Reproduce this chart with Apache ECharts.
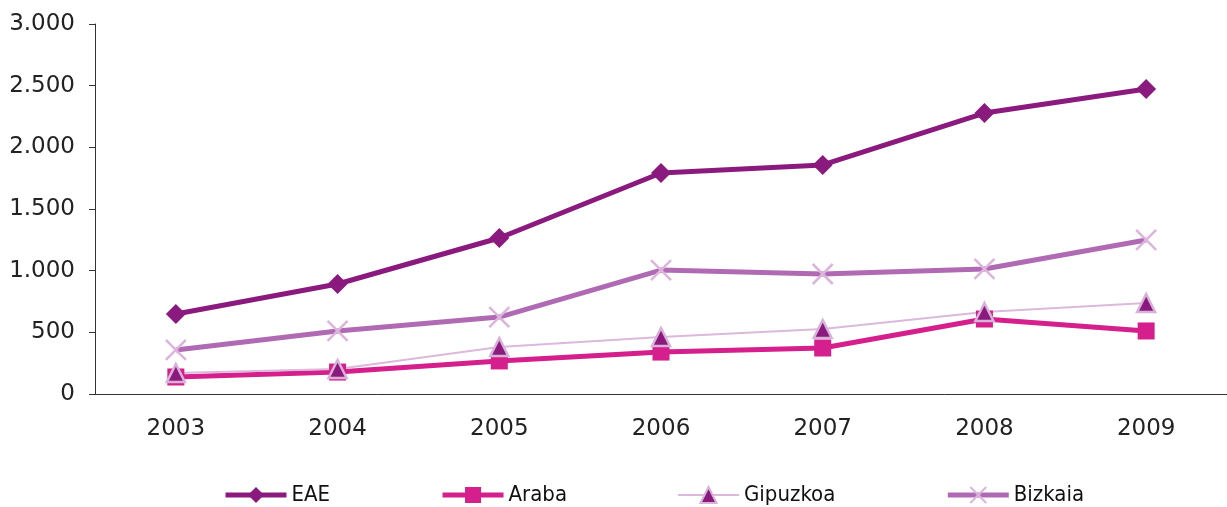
<!DOCTYPE html>
<html>
<head>
<meta charset="utf-8">
<script src="https://cdn.jsdelivr.net/npm/echarts@6/dist/echarts.min.js"></script>
<style>
  html, body { margin: 0; padding: 0; background: #fff; }
  #chart { width: 1227px; height: 507px; }
</style>
</head>
<body>
<div id="chart"></div>
<script>
var years = ['2003', '2004', '2005', '2006', '2007', '2008', '2009'];
var eae = [649, 892, 1265, 1792, 1857, 2278, 2473];
var araba = [138, 178, 268, 340, 373, 608, 511];
var gipuzkoa = [170, 203, 381, 462, 527, 665, 738];
var bizkaia = [357, 511, 624, 1005, 973, 1014, 1249];

var font = 'DejaVu Sans';
var myChart = echarts.init(document.getElementById('chart'));

var option = {
  backgroundColor: '#fff',
  animation: false,
  grid: { left: 95, right: 0, top: 24, bottom: 113 },
  legend: {
    left: 223,
    top: 484,
    padding: 0,
    itemWidth: 61,
    itemHeight: 20,
    itemGap: 110,
    textStyle: { fontFamily: 'DejaVu Sans Condensed', fontSize: 22, color: '#111' },
    data: [
      { name: 'EAE', lineStyle: { width: 5 } },
      { name: 'Araba', lineStyle: { width: 5 } },
      { name: 'Gipuzkoa', lineStyle: { width: 2 } },
      { name: 'Bizkaia', lineStyle: { width: 5 } }
    ]
  },
  xAxis: {
    type: 'category',
    data: years,
    boundaryGap: true,
    axisLine: { lineStyle: { color: '#333', width: 1 } },
    axisTick: { length: 6, lineStyle: { color: '#333' } },
    axisLabel: { fontFamily: font, fontSize: 23, color: '#222', margin: 24 }
  },
  yAxis: {
    type: 'value',
    min: 0,
    max: 3000,
    interval: 500,
    splitLine: { show: false },
    axisLine: { show: true, lineStyle: { color: '#333', width: 1 } },
    axisTick: { show: true, length: 6, lineStyle: { color: '#333' } },
    axisLabel: {
      fontFamily: font, fontSize: 23, color: '#222', margin: 20,
      formatter: function (v) {
        return String(v).replace(/\B(?=(\d{3})+(?!\d))/g, '.');
      }
    }
  },
  series: [
    {
      name: 'EAE', type: 'line', data: eae,
      symbol: 'diamond', symbolSize: 20,
      lineStyle: { color: '#8b1a7e', width: 5 },
      itemStyle: { color: '#8b1a7e' }
    },
    {
      name: 'Araba', type: 'line', data: araba,
      symbol: 'rect', symbolSize: 17,
      lineStyle: { color: '#d41f8c', width: 5 },
      itemStyle: { color: '#d41f8c' }
    },
    {
      name: 'Gipuzkoa', type: 'line', data: gipuzkoa,
      symbol: 'triangle', symbolSize: 18,
      lineStyle: { color: '#dcb8dc', width: 2 },
      itemStyle: { color: '#8b1a7e', borderColor: '#d8b2d8', borderWidth: 2.5 }
    },
    {
      name: 'Bizkaia', type: 'line', data: bizkaia,
      symbol: 'path://M0,0L10,10M10,0L0,10', symbolSize: 20,
      lineStyle: { color: '#b06ab3', width: 5 },
      itemStyle: { color: 'none', borderColor: '#dcb4dc', borderWidth: 2.5 }
    }
  ]
};

myChart.clear();
option && myChart.setOption(option);
</script>
</body>
</html>
